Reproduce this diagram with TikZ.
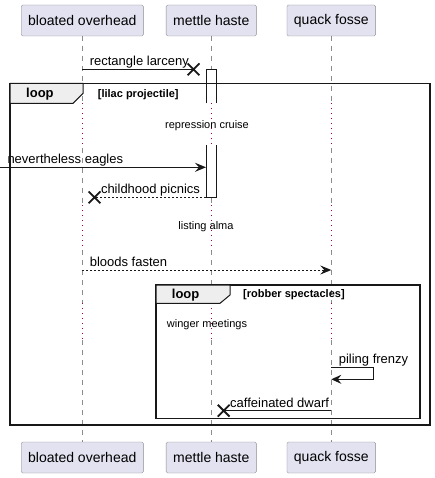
\documentclass[tikz,border=0pt]{standalone}
\usepackage{fontspec}
\setmainfont{Liberation Sans}
\usetikzlibrary{arrows.meta,shapes.misc}
\definecolor{actorfill}{HTML}{E2E2F0}
\definecolor{actorline}{HTML}{8C8C8C}
\definecolor{delayred}{HTML}{A80036}
\definecolor{tabfill}{HTML}{EEEEEE}
\definecolor{ink}{HTML}{181818}
\begin{document}
\begin{tikzpicture}[x=1pt,y=-1pt,
        actor/.style={draw=actorline,fill=actorfill,rounded corners=1.5pt,minimum height=31pt,inner xsep=7pt,font=\fontsize{14}{16}\selectfont},
        lifeline/.style={draw=actorline,line width=0.8pt,dash pattern=on 5pt off 5pt},
        delayline/.style={draw=delayred,line width=0.8pt,dash pattern=on 1pt off 4pt},
        plain/.style={draw=ink,line width=1pt},
        msg/.style={plain,-{Stealth[length=11pt,width=9pt,inset=4pt]}},
        reply/.style={plain,dash pattern=on 2pt off 2pt},
        destroy/.style={cross out,draw=ink,line width=1.8pt,minimum size=10pt,inner sep=0pt},
        msglabel/.style={anchor=base west,inner sep=0pt,xshift=7pt,yshift=3.5pt,font=\fontsize{13}{15}\selectfont},
        delaytext/.style={inner sep=0pt,font=\fontsize{11}{13}\selectfont},
        frame/.style={draw=ink,line width=1.5pt},
        looptab/.style={draw=ink,fill=tabfill,line width=1pt},
        loopname/.style={anchor=west,inner sep=0pt,font=\fontsize{13}{15}\selectfont\bfseries},
        guard/.style={anchor=west,inner sep=0pt,font=\fontsize{11}{13}\selectfont\bfseries}]
        \useasboundingbox (0,0) rectangle (434,478);
        % Participants
        \node[actor] (bo) at (82.3,20.5) {bloated overhead};
        \node[actor] (mh) at (211.3,20.5) {mettle haste};
        \node[actor] (qf) at (331.3,20.5) {quack fosse};
        \node[actor] (bo2) at (82.3,457.5) {bloated overhead};
        \node[actor] (mh2) at (211.3,457.5) {mettle haste};
        \node[actor] (qf2) at (331.3,457.5) {quack fosse};
        % Lifelines, dotted during the delays
        \foreach \p in {bo,mh,qf}{
            \foreach \ya/\yb in {36/103.3,148/205,250/303.3,340/441.7}
                \draw[lifeline] (\p.south |- 0,\ya) -- (\p.south |- 0,\yb);
            \foreach \ya/\yb in {103.3/148,205/250,303.3/340}
                \draw[delayline] (\p.south |- 0,\ya) -- (\p.south |- 0,\yb);
        }
        % Activation of mettle haste
        \fill[white] (206,69.3) rectangle (216.7,103.3);
        \draw[plain] (206,103.3) -- (206,69.3) -- (216.7,69.3) -- (216.7,103.3);
        \fill[white] (206,145) rectangle (216.7,197.3);
        \draw[plain] (206,145) -- (206,197.3) -- (216.7,197.3) -- (216.7,145);
        \coordinate (mhin) at (206,167.3);
        \coordinate (mhout) at (206,197.3);
        \coordinate (edge) at (0,167.3);
        % Messages
        \node[destroy] (x1) at (193.5,69.3) {};
        \draw[plain] (bo.south |- x1) -- (x1.center) node[msglabel,at start] {rectangle larceny};
        \draw[msg] (edge) -- (mhin) node[msglabel,at start] {nevertheless eagles};
        \node[destroy] (x2) at (94.5,197.3) {};
        \draw[reply] (mhout) -- (x2.center) node[msglabel,at end,xshift=-1pt] {childhood picnics};
        \draw[msg,reply] (bo.south |- 0,270) -- (qf.south |- 0,270) node[msglabel,at start] {bloods fasten};
        \draw[msg,-{Stealth[length=10pt,width=9pt,inset=3.5pt]}] (qf.south |- 0,367.3) -- node[msglabel,at start] {piling frenzy} ++(42,0) -- ++(0,12) -- (qf.south |- 0,379.3);
        \node[destroy] (x3) at (223.7,410.7) {};
        \draw[plain] (qf.south |- x3) -- (x3.center) node[msglabel,at end,xshift=-1pt] {caffeinated dwarf};
        % Delays
        \node[delaytext] (d1) at (207,126) {repression cruise};
        \node[delaytext] (d2) at (206,227) {listing alma};
        \node[delaytext] (d3) at (207,325) {winger meetings};
        % Outer loop
        \draw[frame] (10,83.3) rectangle (430,425);
        \draw[looptab] (10,83.3) -- (83,83.3) -- (83,93.3) -- (73,103.3) -- (10,103.3) -- cycle;
        \node[loopname] (l1) at (26,94.5) {loop};
        \node[guard] (g1) at (97.7,95) {[lilac projectile]};
        % Inner loop
        \draw[frame] (156,285) rectangle (420,418.3);
        \draw[looptab] (156,285) -- (230,285) -- (230,295) -- (220,303.3) -- (156,303.3) -- cycle;
        \node[loopname] (l2) at (171.7,295) {loop};
        \node[guard] (g2) at (243,295) {[robber spectacles]};
    \end{tikzpicture}
\end{document}
